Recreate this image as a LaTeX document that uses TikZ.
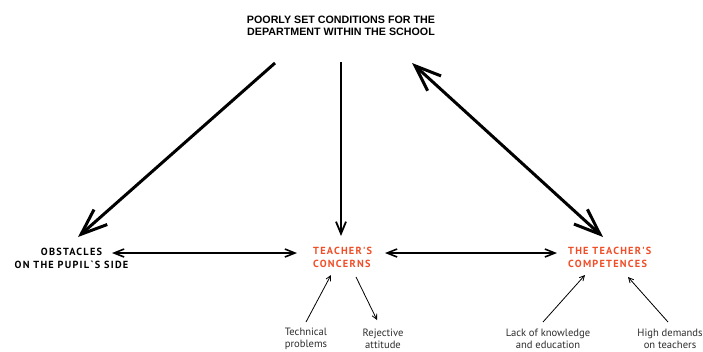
\documentclass[tikz,border=0pt]{standalone}
\usepackage{fontspec}
\setmainfont{PT Sans}
\newfontfamily\headfont{Liberation Sans}
\newfontfamily\causefont{PT Sans}[LetterSpace=12]
\usetikzlibrary{arrows.meta}
\definecolor{concernred}{RGB}{240,78,40}
\definecolor{notegray}{RGB}{45,45,45}

\begin{document}
\begin{tikzpicture}[x=1pt,y=-1pt,
  every node/.style={inner sep=0pt,align=center},
  headline/.style={font=\headfont\bfseries\fontsize{10.7}{12}\selectfont},
  cause/.style={font=\causefont\bfseries\fontsize{10.3}{13.5}\selectfont},
  redcause/.style={cause,text=concernred,align=left,anchor=west},
  note/.style={font=\fontsize{10.6}{12.5}\selectfont,text=notegray},
  bigarrow/.style={line width=3pt,-{Straight Barb[length=26pt,width=20pt]}},
  bothbig/.style={line width=3pt,{Straight Barb[length=26pt,width=20pt]}-{Straight Barb[length=26pt,width=20pt]}},
  downarrow/.style={line width=1.8pt,-{Straight Barb[length=12pt,width=10pt]}},
  linkarrow/.style={line width=1.6pt,{Straight Barb[length=10pt,width=8pt]}-{Straight Barb[length=10pt,width=8pt]}},
  notearrow/.style={line width=0.8pt,-{Straight Barb[length=5pt,width=5pt]}}
]
\useasboundingbox (0,0) rectangle (703,351);

% top and the three main groups
\node [headline] (conditions) at (341,26) {POORLY SET CONDITIONS FOR THE\\DEPARTMENT WITHIN THE SCHOOL};
\node [cause] (obstacles) at (71.5,258.5) {OBSTACLES\\ON THE PUPIL{\char96}S SIDE};
\node [redcause] (concerns) at (313,257.5) {TEACHER'S\\CONCERNS};
\node [redcause] (competences) at (568,257.5) {THE TEACHER'S\\COMPETENCES};

% small notes
\node [note] (technical) at (306,339) {Technical\\problems};
\node [note] (rejective) at (383,339) {Rejective\\attitude};
\node [note] (lack) at (548,339) {Lack of knowledge\\and education};
\node [note] (demands) at (670,339) {High demands\\on teachers};

% arrow ends
\coordinate (condL) at (275,63);
\coordinate (condM) at (341,62);
\coordinate (condR) at (412,63);
\coordinate (obsTop) at (78,237);
\coordinate (conTop) at (341,236);
\coordinate (comTop) at (603,237);
\coordinate (obsR) at (112,253);
\coordinate (conL) at (297,253);
\coordinate (conR) at (385,253);
\coordinate (comL) at (557,253);
\coordinate (conLow) at (331,275);
\coordinate (conLowR) at (356,277);
\coordinate (comLow) at (585,275);
\coordinate (comLowR) at (628,277);
\coordinate (techUp) at (306,322);
\coordinate (rejUp) at (377,320);
\coordinate (lackUp) at (543,322);
\coordinate (demUp) at (668,322);

\draw [bigarrow] (condL) -- (obsTop);
\draw [downarrow] (condM) -- (conTop);
\draw [bothbig] (condR) -- (comTop);
\draw [linkarrow] (obsR) -- (conL);
\draw [linkarrow] (conR) -- (comL);

\draw [notearrow] (techUp) -- (conLow);
\draw [notearrow] (conLowR) -- (rejUp);
\draw [notearrow] (lackUp) -- (comLow);
\draw [notearrow] (demUp) -- (comLowR);
\end{tikzpicture}
\end{document}
